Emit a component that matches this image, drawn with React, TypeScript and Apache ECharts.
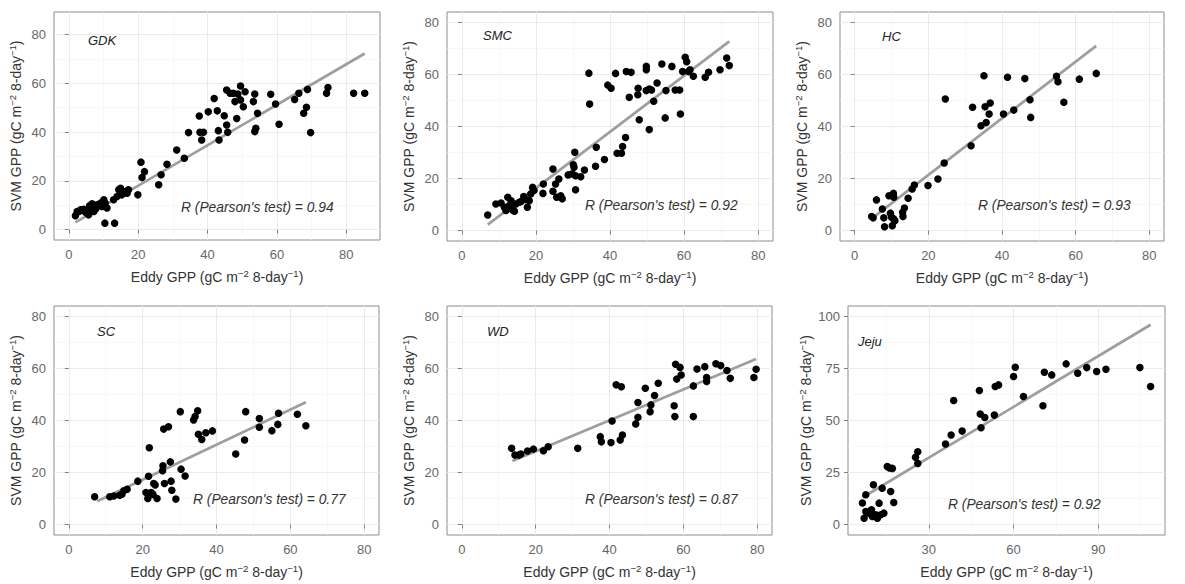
import React, { useEffect, useRef } from "react";
import * as echarts from "echarts";

// ---------- data (Eddy GPP, SVM GPP) ----------
const gdk: number[][] = [
  [1.9, 5.7], [2.4, 7.5], [2.9, 7.5], [3.4, 8.2], [3.8, 8.2], [4.3, 8.4], [4.8, 7.2], [5.3, 6.8], [5.7, 6.1], [5.7, 8.2],
  [6.0, 9.8], [6.2, 7.9], [6.5, 9.5], [6.7, 10.6], [7.2, 7.5], [7.8, 8.6], [8.2, 10.2], [9.1, 10.9], [9.6, 9.5], [10.1, 12.3],
  [10.5, 10.9], [11.0, 8.9], [10.4, 2.7], [13.2, 2.7], [12.9, 12.3], [13.9, 13.6], [14.4, 16.4], [14.9, 17.0], [15.3, 14.3],
  [16.3, 15.7], [16.8, 15.0], [17.2, 16.4], [19.9, 14.3], [20.8, 27.7], [21.1, 21.4], [21.8, 23.8], [25.9, 18.4], [26.6, 22.5],
  [28.3, 26.8], [31.1, 32.7], [33.3, 29.3], [34.5, 39.8], [37.6, 46.6], [37.8, 39.9], [38.8, 39.9], [38.3, 36.8], [40.2, 48.3],
  [41.9, 53.8], [42.8, 48.7], [43.1, 40.6], [43.3, 36.8], [44.8, 46.7], [45.5, 57.2], [45.5, 42.9], [45.8, 39.9], [46.5, 55.9],
  [47.4, 55.9], [47.9, 52.5], [48.4, 45.6], [48.7, 55.6], [49.5, 58.9], [49.5, 53.2], [50.3, 50.4], [50.8, 56.5], [53.2, 52.5],
  [53.6, 55.6], [53.6, 40.2], [53.9, 41.6], [54.4, 47.7], [58.2, 55.5], [59.6, 51.5], [60.6, 43.2], [65.1, 53.4], [66.3, 55.9],
  [67.7, 47.7], [68.5, 50.2], [68.8, 57.5], [69.7, 39.8], [74.3, 55.9], [74.7, 58.3], [82.1, 55.9], [85.3, 55.9],
];
const smc: number[][] = [
  [7.0, 6.0], [9.2, 10.2], [10.6, 10.6], [11.5, 9.0], [11.9, 7.7], [12.4, 12.8], [12.8, 9.6], [13.3, 11.5], [13.7, 7.9],
  [14.2, 7.4], [14.6, 10.2], [15.5, 10.9], [16.0, 11.2], [16.7, 13.1], [17.3, 11.9], [17.7, 9.0], [18.2, 11.5], [18.6, 14.1],
  [19.1, 16.6], [19.5, 15.4], [21.9, 14.3], [22.0, 17.9], [24.6, 23.7], [24.6, 15.1], [25.3, 17.9], [25.6, 12.8], [26.2, 19.8],
  [26.7, 13.4], [27.1, 12.2], [28.7, 21.4], [29.8, 21.8], [30.1, 25.3], [30.3, 24.3], [30.5, 30.1], [30.7, 15.7], [30.7, 21.1],
  [32.1, 20.7], [33.1, 23.3], [34.3, 60.5], [34.5, 48.6], [36.1, 24.7], [36.3, 32.0], [38.5, 27.3], [39.4, 55.9], [40.3, 54.7],
  [41.5, 60.4], [41.9, 29.7], [43.1, 29.7], [43.4, 32.3], [44.2, 35.8], [44.4, 61.1], [45.7, 60.8], [45.2, 51.2], [47.5, 52.2],
  [47.6, 54.7], [47.9, 42.6], [49.8, 63.1], [49.8, 61.8], [49.8, 53.8], [50.6, 38.8], [50.6, 54.4], [51.2, 54.0], [51.8, 49.7],
  [52.7, 56.7], [54.0, 64.0], [54.9, 43.3], [55.1, 53.8], [56.7, 63.1], [57.6, 54.0], [58.8, 54.0], [59.0, 44.8], [59.6, 61.1],
  [60.3, 66.6], [60.7, 64.9], [61.2, 61.1], [61.6, 61.8], [62.5, 59.3], [65.7, 58.9], [66.6, 60.8], [69.7, 61.8], [71.5, 66.3],
  [72.2, 63.4],
];
const hc: number[][] = [
  [4.6, 5.4], [5.0, 4.9], [5.9, 11.8], [7.5, 8.3], [7.9, 4.9], [8.1, 1.5], [9.3, 13.4], [9.7, 6.7], [10.0, 5.1], [10.2, 1.9],
  [10.5, 14.3], [10.6, 12.8], [10.6, 4.5], [10.9, 3.8], [13.0, 7.0], [13.1, 5.4], [13.5, 8.7], [14.5, 12.4], [15.6, 16.0],
  [16.2, 17.5], [19.9, 17.3], [22.6, 19.8], [24.3, 26.0], [24.6, 50.6], [31.6, 32.6], [32.0, 47.4], [34.3, 40.3], [35.1, 59.5],
  [35.4, 47.6], [35.7, 41.5], [36.5, 44.8], [36.8, 49.0], [40.4, 44.8], [41.5, 58.9], [43.2, 46.3], [46.2, 58.4], [47.6, 50.3],
  [47.8, 43.5], [54.8, 59.3], [55.2, 57.2], [56.8, 49.3], [61.0, 58.2], [65.6, 60.4],
];
const sc: number[][] = [
  [7.0, 10.7], [11.1, 10.7], [12.2, 11.0], [13.8, 11.3], [14.4, 11.7], [14.9, 13.0], [15.8, 13.6], [18.7, 16.7], [20.9, 12.3],
  [21.4, 10.0], [21.6, 18.6], [21.8, 29.5], [22.3, 12.3], [22.8, 11.6], [23.0, 15.8], [23.4, 15.2], [23.9, 10.0], [25.4, 20.7],
  [25.5, 22.6], [25.7, 36.7], [25.9, 15.8], [27.0, 37.6], [27.5, 24.1], [27.7, 16.7], [27.9, 13.2], [29.0, 9.8], [30.2, 43.4],
  [30.4, 21.3], [31.5, 18.7], [33.8, 40.2], [34.2, 41.5], [34.9, 43.7], [35.1, 34.7], [36.0, 32.7], [37.1, 35.3], [38.9, 36.0],
  [45.2, 27.1], [47.6, 32.5], [47.9, 43.4], [51.6, 37.4], [51.6, 40.8], [55.0, 36.1], [56.6, 38.5], [56.8, 42.8], [61.9, 42.4],
  [64.2, 38.0],
];
const wd: number[][] = [
  [13.5, 29.3], [14.4, 26.7], [15.5, 26.7], [16.0, 27.1], [17.8, 28.3], [19.4, 29.0], [22.1, 28.4], [23.4, 29.9], [31.4, 29.3],
  [37.5, 33.8], [37.8, 31.8], [40.4, 31.5], [40.7, 39.8], [41.8, 53.7], [43.2, 53.0], [42.9, 32.5], [43.5, 34.4], [47.1, 38.7],
  [47.7, 46.9], [47.7, 41.2], [49.7, 52.4], [51.0, 43.4], [51.2, 46.0], [52.2, 49.6], [53.2, 54.3], [57.5, 45.7], [57.7, 41.5],
  [57.9, 61.6], [58.2, 55.9], [59.1, 60.4], [59.4, 57.5], [62.7, 53.3], [62.7, 41.5], [63.7, 59.8], [65.8, 60.7], [66.3, 56.5],
  [66.3, 55.0], [68.8, 61.8], [70.1, 61.1], [71.8, 59.2], [72.7, 56.2], [79.1, 56.5], [79.7, 59.7],
];
const jeju: number[][] = [
  [6.5, 10.4], [7.1, 3.1], [7.7, 14.3], [7.7, 6.3], [8.8, 5.5], [9.7, 7.1], [10.4, 19.1], [10.0, 3.9], [11.2, 4.7], [11.8, 3.1],
  [12.4, 10.3], [13.0, 4.7], [13.5, 17.5], [14.1, 5.5], [15.3, 27.9], [16.1, 27.2], [17.1, 27.0], [16.5, 15.9], [17.6, 10.6],
  [25.3, 32.3], [26.1, 35.0], [26.1, 29.4], [35.9, 38.7], [37.9, 43.0], [38.8, 59.6], [41.8, 44.9], [47.9, 64.4], [48.2, 53.1],
  [48.5, 46.5], [49.8, 51.4], [53.2, 52.6], [53.5, 66.3], [54.7, 67.1], [60.0, 71.1], [60.6, 75.6], [63.5, 61.5], [70.4, 57.1],
  [70.9, 73.2], [73.5, 71.9], [78.6, 77.2], [82.7, 72.7], [85.9, 75.4], [89.4, 73.5], [92.7, 74.6], [104.7, 75.4], [108.5, 66.3],
];

// fitted regression line end points
const gdkFit = [[1.9, 3.0], [85.3, 72.2]];
const smcFit = [[7.0, 2.3], [72.2, 72.7]];
const hcFit = [[4.6, 4.6], [65.6, 71.0]];
const scFit = [[7.7, 9.0], [64.2, 47.0]];
const wdFit = [[13.7, 24.4], [79.7, 63.6]];
const jejuFit = [[6.5, 13.0], [108.5, 96.0]];

const siteNames = ["GDK", "SMC", "HC", "SC", "WD", "Jeju"];
const rValues = ["0.94", "0.92", "0.93", "0.77", "0.87", "0.92"];

// tick labels / grid breaks
const ticks80 = [0, 20, 40, 60, 80];
const minor80 = [10, 30, 50, 70];
const jejuXTicks = [30, 60, 90];
const jejuXMinor = [15, 45, 75, 105];
const jejuYTicks = [0, 25, 50, 75, 100];
const jejuYMinor = [12.5, 37.5, 62.5, 87.5];

const FONT = '"Liberation Sans", Arial, Helvetica, sans-serif';

const panels = [
  { data: gdk, fit: gdkFit, grid: { left: 54, top: 12, width: 326, height: 228 },
    x: [-4.27, 89.7], y: [-4.2, 89.2], xt: ticks80, xm: minor80, yt: ticks80, ym: minor80,
    namePos: [88, 40], rPos: [181, 207] },
  { data: smc, fit: smcFit, grid: { left: 447, top: 12, width: 326, height: 229 },
    x: [-4, 84], y: [-4, 84], xt: ticks80, xm: minor80, yt: ticks80, ym: minor80,
    namePos: [483, 35], rPos: [585, 205] },
  { data: hc, fit: hcFit, grid: { left: 840, top: 12, width: 324, height: 229 },
    x: [-4, 84], y: [-4, 84], xt: ticks80, xm: minor80, yt: ticks80, ym: minor80,
    namePos: [882, 36], rPos: [978, 205] },
  { data: sc, fit: scFit, grid: { left: 54, top: 306, width: 325, height: 229 },
    x: [-4, 84], y: [-4, 84], xt: ticks80, xm: minor80, yt: ticks80, ym: minor80,
    namePos: [97, 331], rPos: [193, 499] },
  { data: wd, fit: wdFit, grid: { left: 447, top: 306, width: 325, height: 229 },
    x: [-4, 84], y: [-4, 84], xt: ticks80, xm: minor80, yt: ticks80, ym: minor80,
    namePos: [487, 331], rPos: [585, 499] },
  { data: jeju, fit: jejuFit, grid: { left: 848, top: 306, width: 317, height: 229 },
    x: [1.4, 113.6], y: [-5, 105], xt: jejuXTicks, xm: jejuXMinor, yt: jejuYTicks, ym: jejuYMinor,
    namePos: [858, 341], rPos: [948, 504] },
];

const nameStyle = {
  fontSize: 14,
  color: "#333333",
  fontFamily: FONT,
  lineHeight: 17,
  rich: {
    sup: { fontSize: 9.5, lineHeight: 9, verticalAlign: "top", color: "#333333", fontFamily: FONT },
  },
};

export default function App() {
  const ref = useRef<HTMLDivElement>(null);
  useEffect(() => {
    if (!ref.current) return;
    const chart = echarts.init(ref.current, undefined, { renderer: "svg" });
    const grid = panels.map((p) => ({
      ...p.grid,
      show: true,
      borderColor: "#8c8c8c",
      borderWidth: 1,
      backgroundColor: "transparent",
      containLabel: false,
      outerBoundsMode: "none",
      z: 0,
    }));
    const xAxis = panels.map((p, i) => ({
      type: "value",
      gridIndex: i,
      min: p.x[0],
      max: p.x[1],
      axisLine: { show: false },
      axisTick: { show: true, length: 4, lineStyle: { color: "#808080" }, customValues: p.xt },
      axisLabel: { customValues: p.xt, color: "#666666", fontSize: 13, fontFamily: FONT, margin: 8 },
      splitLine: { show: false },
      name: "Eddy GPP (gC m{sup|\u22122} 8-day{sup|\u22121})",
      nameLocation: "middle",
      nameGap: 28,
      nameTextStyle: nameStyle,
    }));
    const yAxis = panels.map((p, i) => ({
      type: "value",
      gridIndex: i,
      min: p.y[0],
      max: p.y[1],
      axisLine: { show: false },
      axisTick: { show: true, length: 4, lineStyle: { color: "#808080" }, customValues: p.yt },
      axisLabel: { customValues: p.yt, color: "#666666", fontSize: 13, fontFamily: FONT, margin: 8 },
      splitLine: { show: false },
      name: "SVM GPP (gC m{sup|\u22122} 8-day{sup|\u22121})",
      nameLocation: "middle",
      nameRotate: 90,
      nameGap: 30,
      nameTextStyle: nameStyle,
    }));
    const series: any[] = [];
    panels.forEach((p, i) => {
      const major = { color: "#ebebeb", width: 1, type: "solid" };
      const minor = { color: "#f3f3f3", width: 0.6, type: "solid" };
      series.push({
        type: "scatter",
        xAxisIndex: i,
        yAxisIndex: i,
        data: [[p.x[0], p.y[0]]],
        symbolSize: 0,
        itemStyle: { opacity: 0 },
        silent: true,
        z: 0,
        markLine: {
          silent: true,
          z: 0,
          symbol: ["none", "none"],
          label: { show: false },
          emphasis: { disabled: true },
          data: [
            ...p.xm.map((v) => ({ xAxis: v, lineStyle: minor })),
            ...p.ym.map((v) => ({ yAxis: v, lineStyle: minor })),
            ...p.xt.map((v) => ({ xAxis: v, lineStyle: major })),
            ...p.yt.map((v) => ({ yAxis: v, lineStyle: major })),
          ],
        },
      });
      series.push({
        type: "line",
        xAxisIndex: i,
        yAxisIndex: i,
        data: p.fit,
        symbol: "none",
        silent: true,
        lineStyle: { color: "#9e9e9e", width: 2.7 },
        z: 2,
      });
      series.push({
        type: "scatter",
        xAxisIndex: i,
        yAxisIndex: i,
        data: p.data,
        symbolSize: 7.5,
        itemStyle: { color: "#000000", opacity: 1 },
        z: 4,
      });
    });
    const graphic: any[] = [];
    panels.forEach((p, i) => {
      graphic.push({
        type: "text",
        x: p.namePos[0],
        y: p.namePos[1],
        z: 100,
        style: {
          text: siteNames[i],
          fontSize: 13,
          fontStyle: "italic",
          fontWeight: "normal",
          fontFamily: FONT,
          fill: "#222222",
          align: "left",
          verticalAlign: "middle",
        },
      });
      graphic.push({
        type: "text",
        x: p.rPos[0],
        y: p.rPos[1],
        z: 100,
        style: {
          text: "R (Pearson's test) = " + rValues[i],
          fontSize: 13.8,
          fontStyle: "italic",
          fontWeight: "normal",
          fontFamily: FONT,
          fill: "#333333",
          align: "left",
          verticalAlign: "middle",
        },
      });
    });
    chart.setOption({
      animation: false,
      backgroundColor: "#ffffff",
      grid,
      xAxis,
      yAxis,
      series,
      graphic,
    } as any);
    return () => chart.dispose();
  }, []);
  return (
    <div
      ref={ref}
      style={{ position: "absolute", left: 0, top: 0, width: 1185, height: 584, background: "#fff" }}
    />
  );
}
